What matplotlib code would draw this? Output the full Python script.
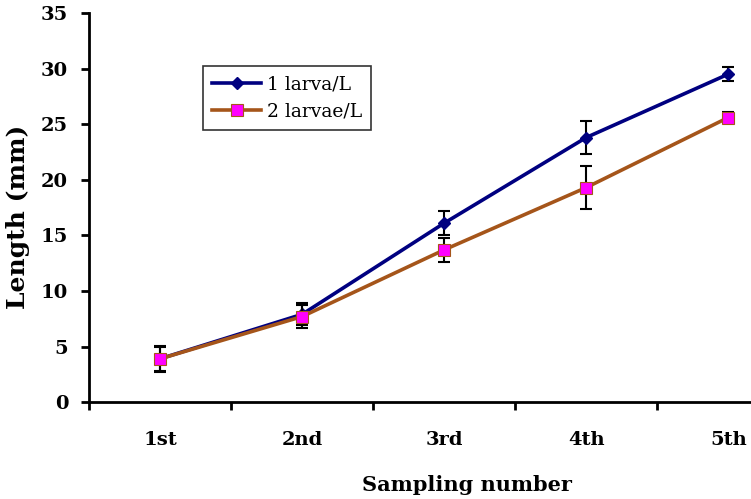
import matplotlib
matplotlib.use("Agg")
import matplotlib.pyplot as plt
import numpy as np

plt.rcParams["font.family"] = ["DejaVu Serif"]

categories = ["1st", "2nd", "3rd", "4th", "5th"]
larva1 = [3.9, 7.9, 16.1, 23.8, 29.5]
larva1_err = [1.1, 1.0, 1.05, 1.5, 0.6]
larva2 = [3.9, 7.7, 13.7, 19.3, 25.6]
larva2_err = [1.15, 1.05, 1.05, 1.9, 0.5]

fig = plt.figure(figsize=(7.51, 4.99), dpi=100)
ax = fig.add_axes([0.1185, 0.194, 1.0 - 0.1185, 0.78])

x = np.arange(len(categories))

ax.errorbar(x, larva1, yerr=larva1_err, fmt="none", ecolor="black",
            elinewidth=1.5, capsize=4, capthick=1.5, zorder=2)
ax.plot(x, larva1, color="#000080", lw=2.6, marker="D", ms=6,
        mfc="#000080", mec="#000080", label="1 larva/L", zorder=3)
ax.errorbar(x, larva2, yerr=larva2_err, fmt="none", ecolor="black",
            elinewidth=1.5, capsize=4, capthick=1.5, zorder=4)
ax.plot(x, larva2, color="#A5551A", lw=2.6, marker="s", ms=8,
        mfc="#FF00FF", mec="#A5551A", mew=0.8, label="2 larvae/L", zorder=5)

ax.set_yticks(np.arange(0, 36, 5))
ax.set_xticks(np.arange(-0.5, 5, 1.0))
ax.set_xticklabels([])
ax.set_xticks(x, minor=True)
ax.set_xticklabels(categories, minor=True)
ax.set_ylim(0, 35)
ax.set_xlim(-0.5, 4.16)

ax.spines["top"].set_visible(False)
ax.spines["right"].set_visible(False)
ax.spines["left"].set_linewidth(2)
ax.spines["bottom"].set_linewidth(2)
ax.tick_params(axis="both", which="major", direction="out", length=6, width=2,
               labelsize=14)
ax.tick_params(axis="y", which="major", pad=9)
ax.tick_params(axis="x", which="minor", length=0, pad=21, labelsize=14)
for lab in ax.get_yticklabels() + ax.get_xticklabels(minor=True):
    lab.set_fontweight("bold")

ax.set_ylabel("Length (mm)", fontsize=18, fontweight="bold")
ax.set_xlabel("Sampling number", fontsize=15, fontweight="bold")
ax.yaxis.set_label_coords(-0.089, 0.476)
ax.xaxis.set_label_coords(0.571, -0.186)

leg = ax.legend(loc="lower left", bbox_to_anchor=(203 / 751, 1 - 130 / 499),
                bbox_transform=fig.transFigure, fontsize=13.5, frameon=True,
                fancybox=False, edgecolor="black", handlelength=2.6,
                borderpad=0.5, labelspacing=0.5, handletextpad=0.3,
                borderaxespad=0)
leg.get_frame().set_linewidth(1.2)

fig.savefig("out.png", dpi=100)
